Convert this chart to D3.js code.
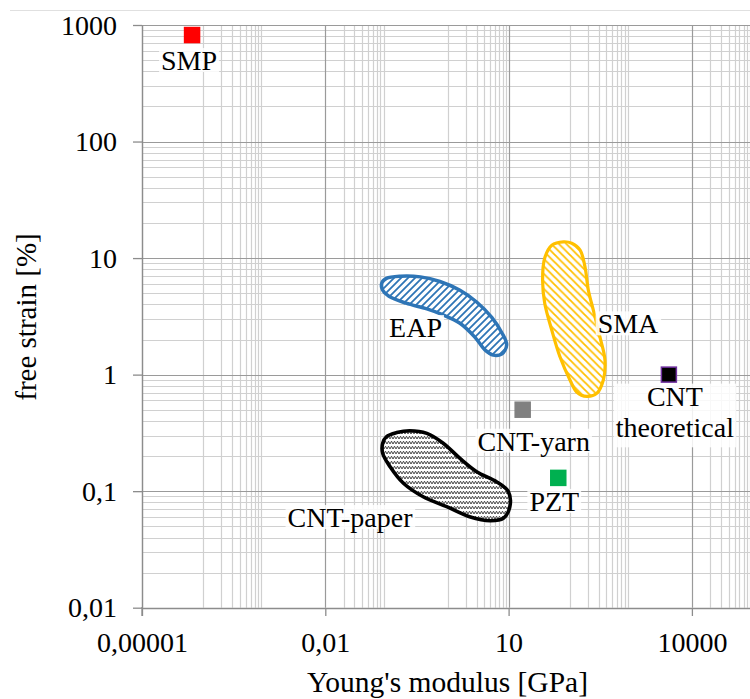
<!DOCTYPE html>
<html><head><meta charset="utf-8">
<script src="https://cdn.jsdelivr.net/npm/d3@7"></script>
<style>
body{margin:0;background:#fff}
svg{display:block}
</style>
</head><body>
<svg id="chart" width="750" height="699"></svg>
<script>
// ---- data ----
const xTicks = [1e-5, 1e-2, 10, 1e4];
const xTickLabels = ["0,00001", "0,01", "10", "10000"];
const yTicks = [0.01, 0.1, 1, 10, 100, 1000];
const yTickLabels = ["0,01", "0,1", "1", "10", "100", "1000"];
const xMinorDecades = [1e-4, 1e-2, 1, 100, 1e4];   // decades with minor vertical gridlines
const yMinorDecades = [0.01, 0.1, 1, 10, 100];

const pointNames = ["SMP", "CNT-yarn", "PZT", "CNT theoretical"];
const pointX = [6.6e-5, 17, 65, 4200];
const pointY = [820, 0.5, 0.13, 1];

const eapX = [0.084, 0.10, 0.17, 0.36, 0.75, 1.6, 3.0, 5.3, 7.7, 9.3, 7.7, 5.6, 4.1, 2.8, 1.6, 0.85, 0.46, 0.21, 0.11, 0.087];
const eapY = [6.1, 6.7, 7.0, 6.9, 6.3, 5.3, 4.2, 3.1, 2.3, 1.8, 1.5, 1.47, 1.63, 2.1, 2.76, 3.25, 3.66, 4.1, 4.7, 5.3];

const smaX = [79, 108, 148, 178, 202, 243, 313, 378, 355, 277, 190, 130, 101, 69, 51, 39, 36, 39, 51];
const smaY = [13.8, 13.4, 11.7, 8.4, 5.3, 3.6, 2.1, 1.33, 0.90, 0.69, 0.65, 0.71, 0.90, 1.43, 2.4, 4.1, 6.5, 10, 12.9];

const paperX = [0.087, 0.10, 0.148, 0.24, 0.46, 0.85, 1.6, 3.0, 6.4, 9.9, 10.5, 8.2, 5.0, 2.3, 0.97, 0.40, 0.19, 0.115, 0.087];
const paperY = [0.258, 0.293, 0.318, 0.33, 0.313, 0.258, 0.191, 0.147, 0.12, 0.099, 0.074, 0.0585, 0.0558, 0.0604, 0.0736, 0.0896, 0.117, 0.162, 0.211];

const regionNames = ["EAP", "SMA", "CNT-paper"];
const regionLabelX = [0.30, 900, 0.0254];
const regionLabelY = [2.1, 2.26, 0.0492];

// ---- drawing ----
const FONT = '"Liberation Serif"';
const FS = "28px";
const svg = d3.select("#chart");
const x = d3.scaleLog().domain([1e-5, 1e5]).range([142, 753]);
const y = d3.scaleLog().domain([0.01, 1000]).range([607.7, 25]);

const majorCol = "#9a9a9a", minorCol = "#d0d0d0";

svg.append("line").attr("x1", 10).attr("x2", 750).attr("y1", 10.5).attr("y2", 10.5)
  .attr("stroke", "#e0e0e0").attr("stroke-width", 1);

// patterns
const defs = svg.append("defs");
const pE = defs.append("pattern").attr("id", "hEAP").attr("patternUnits", "userSpaceOnUse")
  .attr("width", 7).attr("height", 7);
pE.append("rect").attr("width", 7).attr("height", 7).attr("fill", "#fff");
pE.append("path").attr("d", "M0,7 L7,0 M-1,1 L1,-1 M6,8 L8,6")
  .attr("stroke", "#2e75b6").attr("stroke-width", 1.8);

const pS = defs.append("pattern").attr("id", "hSMA").attr("patternUnits", "userSpaceOnUse")
  .attr("width", 7.5).attr("height", 7.5);
pS.append("rect").attr("width", 7.5).attr("height", 7.5).attr("fill", "#fff");
pS.append("path").attr("d", "M0,0 L7.5,7.5 M-1,6.5 L1,8.5 M6.5,-1 L8.5,1")
  .attr("stroke", "#ffc000").attr("stroke-width", 1.8);

const pP = defs.append("pattern").attr("id", "hPaper").attr("patternUnits", "userSpaceOnUse")
  .attr("width", 6).attr("height", 5);
pP.append("rect").attr("width", 6).attr("height", 5).attr("fill", "#fff");
pP.append("path").attr("d", "M0,4 L1.5,1.2 L3,4 L4.5,1.2 L6,4")
  .attr("fill", "none").attr("stroke", "#333").attr("stroke-width", 0.9);

// gridlines
const grid = svg.append("g");
const yMinor = [];
yMinorDecades.forEach(d => { for (let j = 2; j <= 9; j++) yMinor.push(j * d); });
const xMinor = [];
xMinorDecades.forEach(d => { for (let j = 1; j <= 9; j++) { if (!xTicks.some(t => Math.abs(t - j * d) / t < 1e-9)) xMinor.push(j * d); } });

grid.selectAll(".hmin").data(yMinor).join("line")
  .attr("x1", 142).attr("x2", 753)
  .attr("y1", d => Math.round(y(d)) + 0.5).attr("y2", d => Math.round(y(d)) + 0.5)
  .attr("stroke", minorCol).attr("stroke-width", 1.2);
grid.selectAll(".vmin").data(xMinor).join("line")
  .attr("y1", 25).attr("y2", 607.7)
  .attr("x1", d => Math.round(x(d)) + 0.5).attr("x2", d => Math.round(x(d)) + 0.5)
  .attr("stroke", minorCol).attr("stroke-width", 1.2);
grid.selectAll(".hmaj").data(yTicks).join("line")
  .attr("x1", 142).attr("x2", 753)
  .attr("y1", d => Math.round(y(d)) + 0.5).attr("y2", d => Math.round(y(d)) + 0.5)
  .attr("stroke", majorCol).attr("stroke-width", 1.2);
grid.selectAll(".vmaj").data(xTicks).join("line")
  .attr("y1", 25).attr("y2", 607.7)
  .attr("x1", d => Math.round(x(d)) + 0.5).attr("x2", d => Math.round(x(d)) + 0.5)
  .attr("stroke", majorCol).attr("stroke-width", 1.2);

// axes
const xAxis = svg.append("g").attr("transform", "translate(0,608)")
  .call(d3.axisBottom(x).tickValues(xTicks).tickFormat((d, i) => xTickLabels[i]).tickSize(8).tickSizeOuter(0));
xAxis.select(".domain").attr("stroke", "#8c8c8c").attr("stroke-width", 1.3);
xAxis.selectAll(".tick line").attr("stroke", "#8c8c8c").attr("stroke-width", 1.3);
xAxis.selectAll(".tick text").attr("y", 44).attr("dy", null).attr("fill", "#000")
  .style("font-family", FONT).style("font-size", FS);

const yAxis = svg.append("g").attr("transform", "translate(142,0)")
  .call(d3.axisLeft(y).tickValues(yTicks).tickFormat((d, i) => yTickLabels[i]).tickSize(9).tickSizeOuter(0));
yAxis.select(".domain").attr("stroke", "#8c8c8c").attr("stroke-width", 1.3);
yAxis.selectAll(".tick line").attr("stroke", "#8c8c8c").attr("stroke-width", 1.3);
yAxis.selectAll(".tick text").attr("x", -25).attr("dy", "0.33em").attr("fill", "#000")
  .style("font-family", FONT).style("font-size", FS);

svg.append("line").attr("x1", 142).attr("x2", 142).attr("y1", 607).attr("y2", 616)
  .attr("stroke", "#8c8c8c").attr("stroke-width", 1.3);

// regions
const line = d3.line().curve(d3.curveCatmullRomClosed.alpha(0.5));
function region(xs, ys, fill, stroke, sw) {
  const pts = xs.map((v, i) => [x(v), y(ys[i])]);
  svg.append("path").attr("d", line(pts)).attr("fill", fill).attr("stroke", stroke)
    .attr("stroke-width", sw).attr("stroke-linejoin", "round");
}
region(eapX, eapY, "url(#hEAP)", "#2e75b6", 3.5);
region(smaX, smaY, "url(#hSMA)", "#ffc000", 3.2);
region(paperX, paperY, "url(#hPaper)", "#000", 3.6);

// point markers
const markFill = ["#ff0000", "#808080", "#00b050", "#000000"];
const markStroke = ["#ff0000", "#808080", "#00b050", "#7030a0"];
const ms = 15;
svg.selectAll(".pt").data(pointNames).join("rect")
  .attr("x", (d, i) => x(pointX[i]) - ms / 2).attr("y", (d, i) => y(pointY[i]) - ms / 2)
  .attr("width", ms).attr("height", ms)
  .attr("fill", (d, i) => markFill[i]).attr("stroke", (d, i) => markStroke[i]).attr("stroke-width", 1.5);

// labels with translucent white boxes
const labG = svg.append("g");
function label(lines, cx, baseY) {
  const g = labG.append("g");
  const rect = g.append("rect").attr("fill", "#fff").attr("fill-opacity", 0.85);
  const t = g.append("text").attr("text-anchor", "middle").attr("fill", "#000")
    .style("font-family", FONT).style("font-size", FS);
  lines.forEach((s, k) => t.append("tspan").attr("x", cx).attr("y", baseY + k * 31.7).text(s));
  const bb = t.node().getBBox();
  rect.attr("x", bb.x - 2).attr("width", bb.width + 4)
    .attr("y", baseY - 22).attr("height", 24 + (lines.length - 1) * 31.7 + (lines.length > 1 ? 8 : 0));
}
const ptLabelDx = [-3, 11, -4, 6];
const ptLabelDy = [35, 41, 33, 31];
pointNames.forEach((n, i) => {
  const lines = n === "CNT theoretical" ? ["CNT", "theoretical"] : [n];
  label(lines, x(pointX[i]) + ptLabelDx[i], y(pointY[i]) + ptLabelDy[i]);
});
regionNames.forEach((n, i) => label([n], x(regionLabelX[i]), y(regionLabelY[i])));

// axis titles
svg.append("text").attr("x", 447.5).attr("y", 692).attr("text-anchor", "middle").attr("fill", "#000")
  .style("font-family", FONT).style("font-size", "29.5px").text("Young's modulus [GPa]");
svg.append("text").attr("transform", "translate(36,317) rotate(-90)").attr("text-anchor", "middle").attr("fill", "#000")
  .style("font-family", FONT).style("font-size", "29px").text("free strain [%]");
</script>
</body></html>
